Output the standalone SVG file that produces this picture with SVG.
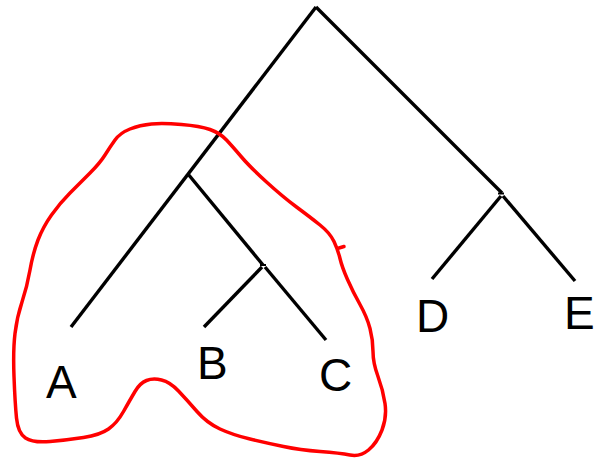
<svg xmlns="http://www.w3.org/2000/svg" width="594" height="460" viewBox="0 0 594 460">
<style>
.br{stroke:#000;stroke-width:3.4;fill:none;stroke-linecap:butt}
.tk{stroke:#000;stroke-width:2;fill:none}
.lbl{font-family:"Liberation Sans",Arial,sans-serif;font-size:46px;fill:#000}
.loop{stroke:#f00;stroke-width:3.5;fill:none;stroke-linejoin:round;stroke-linecap:round}
</style>
<rect width="594" height="460" fill="#fff"/>
<g id="connectors">
<line class="br" x1="316" y1="7" x2="71" y2="327"/>
<line class="br" x1="316" y1="7" x2="502" y2="193"/>
<line class="br" x1="188" y1="174" x2="263" y2="265"/>
<line class="br" x1="262" y1="267" x2="204" y2="327"/>
<line class="br" x1="265" y1="267" x2="326" y2="340"/>
<line class="br" x1="501" y1="196" x2="432" y2="279"/>
<line class="br" x1="503" y1="196" x2="575" y2="281"/>
<line class="tk" x1="260" y1="265" x2="266" y2="265"/>
<line class="tk" x1="498" y1="193.5" x2="504" y2="193.5"/>
</g>
<g id="node-A"><text class="lbl" x="46" y="398">A</text></g>
<g id="node-B"><text class="lbl" x="197" y="379">B</text></g>
<g id="node-C"><text class="lbl" x="319" y="391">C</text></g>
<g id="node-D"><text class="lbl" x="416" y="332">D</text></g>
<g id="node-E"><text class="lbl" x="564" y="329">E</text></g>
<g id="group-ABC">
<path class="loop" d="M151.5,124 Q163,123 181.5,124.5 Q200,126 210,129.5 Q220,133 226.5,140 Q233,147 241.5,157 Q250,167 266.5,182 Q283,197 296.5,207 Q310,217 320,225 Q330,233 334,241.5 Q338,250 340,258.5 Q342,267 347.5,279.5 Q353,292 360,304.5 Q367,317 370,328.5 Q373,340 373,351.5 Q373,363 378,376.5 Q383,390 385,403.5 Q387,417 382,430 Q377,443 368.5,450 Q360,457 350,455 Q340,453 320,451.5 Q300,450 283.5,446.5 Q267,443 250,439 Q233,435 220,429 Q207,423 197,411.5 Q187,400 178.5,391 Q170,382 161.5,380 Q153,378 146.5,380.5 Q140,383 135,391.5 Q130,400 123.5,411.5 Q117,423 108.5,429 Q100,435 83.5,437.5 Q67,440 50,441.5 Q33,443 25.5,438 Q18,433 16.5,418 Q15,403 14,376.5 Q13,350 15,333.5 Q17,317 22,302 Q27,287 30,270 Q33,253 38,240 Q43,227 51.5,215 Q60,203 70,193 Q80,183 90,173 Q100,163 105,155 Q110,147 115,140 Q120,133 130,129 Q140,125 151.5,124 Z"/>
<line class="loop" x1="339" y1="248" x2="344" y2="246.5"/>
</g>
</svg>
